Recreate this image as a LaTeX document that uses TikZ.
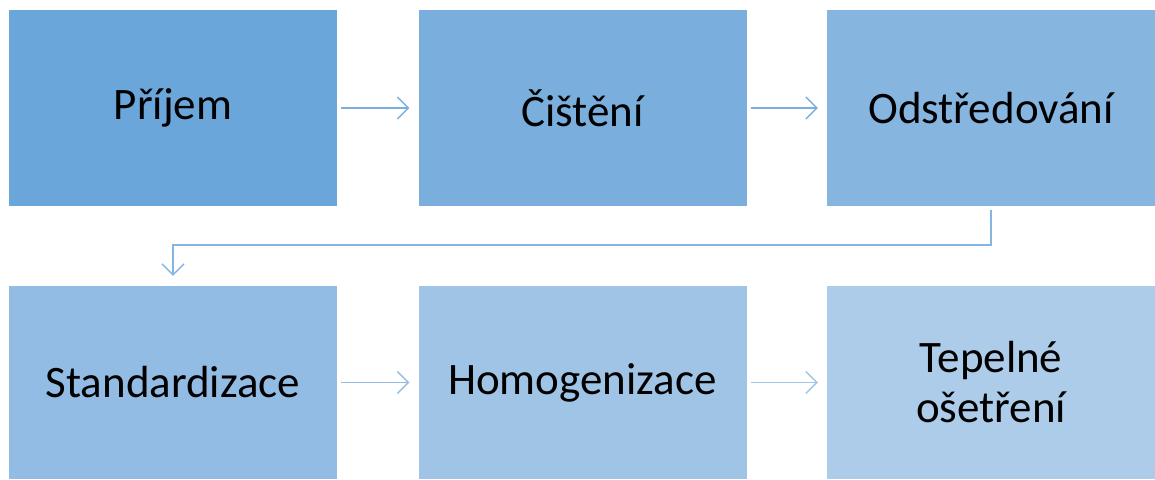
\documentclass[tikz,border=0pt]{standalone}
\usepackage{fontspec}
\setmainfont{Carlito}
\usetikzlibrary{arrows.meta}
\definecolor{c1}{HTML}{6AA6DA}
\definecolor{c2}{HTML}{79AEDD}
\definecolor{c3}{HTML}{86B5E0}
\definecolor{c4}{HTML}{92BCE3}
\definecolor{c5}{HTML}{A0C4E6}
\definecolor{c6}{HTML}{ADCCE9}
\tikzset{
  stepbox/.style={draw=none, minimum width=328pt, minimum height=196pt, inner sep=0pt, align=center, font=\fontsize{45}{50}\selectfont, text=black},
  conn/.style={line width=1.3pt, -{Straight Barb[length=11pt, width=22pt, line width=1.3pt]}},
}
\begin{document}
\begin{tikzpicture}[x=1pt,y=-1pt]
\useasboundingbox (0,0) rectangle (1155,479);
\node[stepbox, fill=c1] (a) at (173,108) {Příjem};
\node[stepbox, fill=c2] (b) at (582.5,108) {Čištění};
\node[stepbox, fill=c3] (c) at (991,108) {Odstředování};
\node[stepbox, fill=c4, minimum height=193pt] (d) at (173,382.5) {Standardizace};
\node[stepbox, fill=c5, minimum height=193pt] (e) at (582.5,382.5) {Homogenizace};
\node[stepbox, fill=c6, minimum height=193pt] (f) at (991,382.5) {Tepelné\\ošetření};
\draw[conn, draw=c1!90] ([xshift=4pt]a.east) -- ([xshift=-9pt]b.west);
\draw[conn, draw=c2] ([xshift=4pt]b.east) -- ([xshift=-9pt]c.west);
\draw[conn, draw=c4] ([xshift=4pt]d.east) -- ([xshift=-9pt]e.west);
\draw[conn, draw=c5] ([xshift=4pt]e.east) -- ([xshift=-9pt]f.west);
\coordinate (t) at (991,245);
\draw[conn, draw=c3] ([yshift=-4pt]c.south) -- (t) -- (d.north |- t) -- ([yshift=10pt]d.north);
\end{tikzpicture}
\end{document}
